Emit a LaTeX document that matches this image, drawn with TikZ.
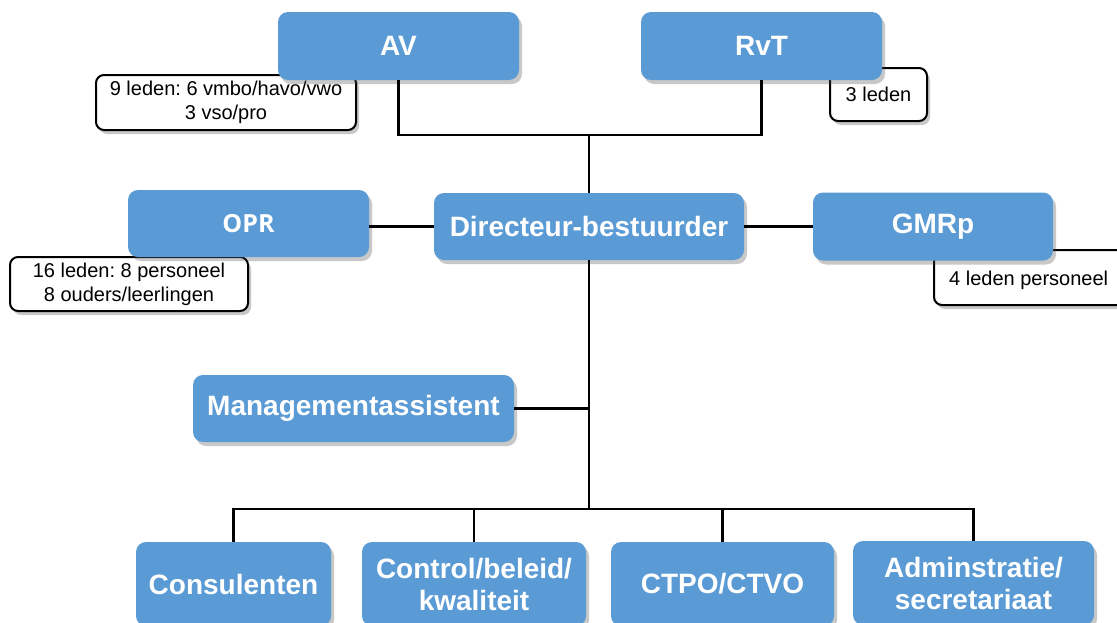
\documentclass[tikz,border=0pt]{standalone}
\usepackage{fontspec}
\setmainfont{Liberation Sans}
\newfontfamily\oprfont{Open Sans}
\usetikzlibrary{shadows}
\definecolor{boxblue}{RGB}{91,155,213}
\frenchspacing
\begin{document}
\begin{tikzpicture}[x=1pt,y=-1pt,
  bluebox/.style={fill=boxblue, rounded corners=10pt, text=white,
    font=\fontsize{28}{32}\selectfont\bfseries, align=center, inner sep=0pt,
    drop shadow={shadow xshift=3pt, shadow yshift=-4pt, opacity=0.3, fill=black!70}},
  notebox/.style={draw=black, line width=2pt, fill=white, rounded corners=8pt,
    font=\fontsize{20}{24}\selectfont, align=center, inner sep=0pt,
    drop shadow={shadow xshift=3pt, shadow yshift=-4pt, opacity=0.3, fill=black!70}},
  conn/.style={line width=2.2pt, black}]
\useasboundingbox (0,0) rectangle (1117,622);
\fill[white] (0,0) rectangle (1117,622);

% notes (behind the blue boxes)
\node[notebox, minimum width=260pt, minimum height=55pt] (avn) at (226,102.5)
  {9 leden: 6 vmbo/havo/vwo\\3 vso/pro};
\node[notebox, minimum width=97pt, minimum height=53pt] (rvtn) at (878.5,94.5) {3 leden};
\node[notebox, minimum width=238pt, minimum height=54pt] (oprn) at (129,284)
  {16 leden: 8 personeel\\8 ouders/leerlingen};
\node[notebox, minimum width=192pt, minimum height=55pt] (gmrn) at (1030,277.5) {};
\node[font=\fontsize{20}{24}\selectfont, anchor=west, inner sep=0pt] (gmrt) at (949,280) {4 leden personeel};

% blue boxes
\node[bluebox, minimum width=241pt, minimum height=68pt] (AV) at (398.5,46) {AV};
\node[bluebox, minimum width=241pt, minimum height=68pt] (RvT) at (761.5,46) {RvT};
\node[bluebox, minimum width=241pt, minimum height=67pt, font=\oprfont\fontsize{25}{29}\selectfont\bfseries] (OPR) at (248.5,223.5) {OPR};
\node[bluebox, minimum width=310pt, minimum height=67pt] (Dir) at (589,226.5) {Directeur-bestuurder};
\node[bluebox, minimum width=240pt, minimum height=68pt] (GMR) at (933,226.5) {GMRp};
\node[bluebox, minimum width=321pt, minimum height=67pt] (MA) at (353.5,408.5) {Managementassistent};
\node[bluebox, minimum width=195pt, minimum height=84pt] (Cons) at (233.5,584) {Consulenten};
\node[bluebox, minimum width=224pt, minimum height=84pt] (Ctrl) at (474,584) {Control/beleid/\\kwaliteit};
\node[bluebox, minimum width=223pt, minimum height=84pt] (CTPO) at (722.5,584) {CTPO/CTVO};
\node[bluebox, minimum width=241pt, minimum height=84pt] (Adm) at (973.5,583) {Adminstratie/\\secretariaat};

% connectors
\coordinate (j1) at (589,135);
\coordinate (bus) at (589,509);
\draw[conn] (AV.south) |- (j1) -| (RvT.south);
\draw[conn] (j1) -- (Dir.north);
\draw[conn] (OPR.east |- Dir.west) -- (Dir.west);
\draw[conn] (Dir.east) -- (Dir.east -| GMR.west);
\draw[conn] (Dir.south) -- (Dir.south |- bus);
\draw[conn] (MA.east) -- (MA.east -| Dir.south);
\draw[conn] (Cons.north) |- (bus) -| (Adm.north);
\draw[conn] (Ctrl.north) -- (Ctrl.north |- bus);
\draw[conn] (CTPO.north) -- (CTPO.north |- bus);
\end{tikzpicture}
\end{document}
